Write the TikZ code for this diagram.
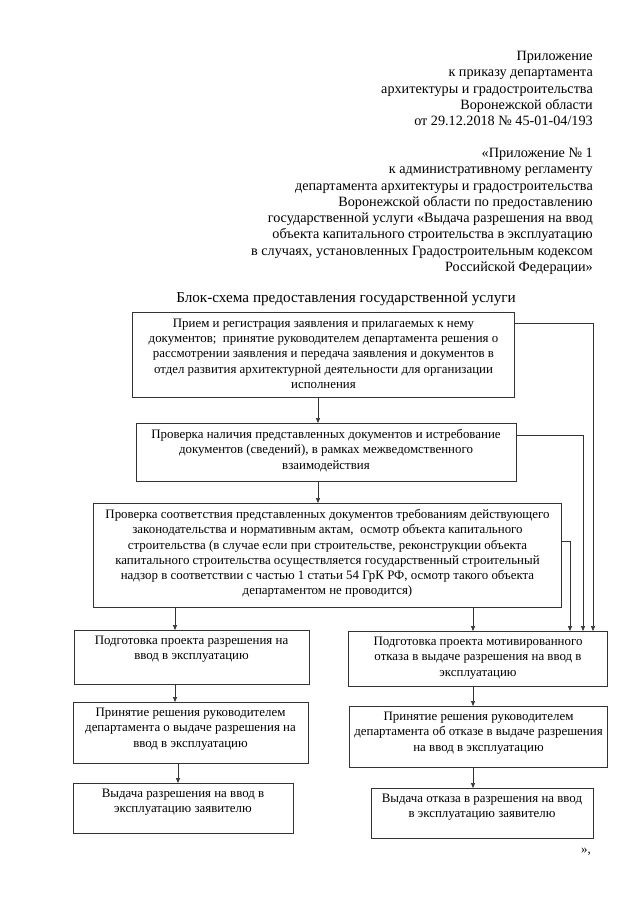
\documentclass[tikz,border=0pt]{standalone}
\usepackage{fontspec}
\setmainfont{Liberation Serif}
\usetikzlibrary{arrows.meta,calc}
\begin{document}
\begin{tikzpicture}[x=1pt,y=-1pt,
  box/.style={draw=black!80, line width=0.6pt, inner sep=0pt, outer sep=0pt},
  txt/.style={anchor=north, align=center, inner sep=0pt, font=\fontsize{12.9}{15.3}\selectfont},
  hdr/.style={anchor=north east, align=right, inner sep=0pt, font=\fontsize{14.2}{16.25}\selectfont},
  arr/.style={draw=black!80, line width=0.6pt, -{Triangle[length=5pt,width=4pt]}}]
\path[use as bounding box, fill=white] (0,0) rectangle (640,905);

% header
\node[hdr] (h1) at (593,51) {Приложение\\к приказу департамента\\архитектуры и градостроительства\\Воронежской области\\от 29.12.2018 № 45-01-04/193};
\node[hdr] (h2) at (593,148) {«Приложение № 1\\к административному регламенту\\департамента архитектуры и градостроительства\\Воронежской области по предоставлению\\государственной услуги «Выдача разрешения на ввод\\объекта капитального строительства в эксплуатацию\\в случаях, установленных Градостроительным кодексом\\Российской Федерации»};

% title
\node[anchor=base, inner sep=0pt, font=\fontsize{15.2}{16}\selectfont] (title) at (346,302) {Блок-схема предоставления государственной услуги};

% boxes
\node[box, minimum width=382pt, minimum height=85pt] (b1) at (323.5,355) {};
\node[box, minimum width=380pt, minimum height=58pt] (b2) at (326,452) {};
\node[box, minimum width=468pt, minimum height=104pt] (b3) at (327.5,555) {};
\node[box, minimum width=235pt, minimum height=54pt] (b4L) at (191.5,657) {};
\node[box, minimum width=259pt, minimum height=55pt] (b4R) at (478,658.5) {};
\node[box, minimum width=235pt, minimum height=61pt] (b5L) at (190.5,732.5) {};
\node[box, minimum width=258pt, minimum height=61pt] (b5R) at (478.5,736.5) {};
\node[box, minimum width=220pt, minimum height=50pt] (b6L) at (183,808) {};
\node[box, minimum width=222pt, minimum height=50pt] (b6R) at (482,813) {};

% box texts
\node[txt] (t1) at ($(b1.north)+(0,6)$) {Прием и регистрация заявления и прилагаемых к нему\\документов;\ \ принятие руководителем департамента решения о\\рассмотрении заявления и передача заявления и документов в\\отдел развития архитектурной деятельности для организации\\исполнения};
\node[txt] (t2) at ($(b2.north)+(0,6)$) {Проверка наличия представленных документов и истребование\\документов (сведений), в рамках межведомственного\\взаимодействия};
\node[txt] (t3) at ($(b3.north)+(0,6)$) {Проверка соответствия представленных документов требованиям действующего\\законодательства и нормативным актам,\ \ осмотр объекта капитального\\строительства (в случае если при строительстве, реконструкции объекта\\капитального строительства осуществляется государственный строительный\\надзор в соответствии с частью 1 статьи 54 ГрК РФ, осмотр такого объекта\\департаментом не проводится)};
\node[txt] (t4L) at ($(b4L.north)+(0,6)$) {Подготовка проекта разрешения на\\ввод в эксплуатацию};
\node[txt] (t4R) at ($(b4R.north)+(0,6)$) {Подготовка проекта мотивированного\\отказа в выдаче разрешения на ввод в\\эксплуатацию};
\node[txt] (t5L) at ($(b5L.north)+(0,6)$) {Принятие решения руководителем\\департамента о выдаче разрешения на\\ввод в эксплуатацию};
\node[txt] (t5R) at ($(b5R.north)+(0,6)$) {Принятие решения руководителем\\департамента об отказе в выдаче разрешения\\на ввод в эксплуатацию};
\node[txt] (t6L) at ($(b6L.north)+(0,6)$) {Выдача разрешения на ввод в\\эксплуатацию заявителю};
\node[txt] (t6R) at ($(b6R.north)+(0,6)$) {Выдача отказа в разрешения на ввод\\в эксплуатацию заявителю};

\node[anchor=base, inner sep=0pt, font=\fontsize{12.9}{15}\selectfont] (close) at (586,853) {»,};

% columns for connectors
\coordinate (cm) at (318,0);
\coordinate (cl) at (175,0);
\coordinate (cl2) at (178,0);
\coordinate (cr) at (473,0);
\coordinate (r1) at (593,323);
\coordinate (r2) at (583,435);
\coordinate (r3) at (570,541);

\draw[arr] (b1.south -| cm) -- (b2.north -| cm);
\draw[arr] (b2.south -| cm) -- (b3.north -| cm);
\draw[arr] (b3.south -| cl) -- (b4L.north -| cl);
\draw[arr] (b3.south -| cr) -- (b4R.north -| cr);
\draw[arr] (b4L.south -| cl) -- (b5L.north -| cl);
\draw[arr] (b5L.south -| cl2) -- (b6L.north -| cl2);
\draw[arr] (b4R.south -| cr) -- (b5R.north -| cr);
\draw[arr] (b5R.south -| cr) -- (b6R.north -| cr);
\draw[arr] (b1.east |- r1) -- (r1) -- (r1 |- b4R.north);
\draw[arr] (b2.east |- r2) -- (r2) -- (r2 |- b4R.north);
\draw[arr] (b3.east |- r3) -- (r3) -- (r3 |- b4R.north);
\end{tikzpicture}
\end{document}
